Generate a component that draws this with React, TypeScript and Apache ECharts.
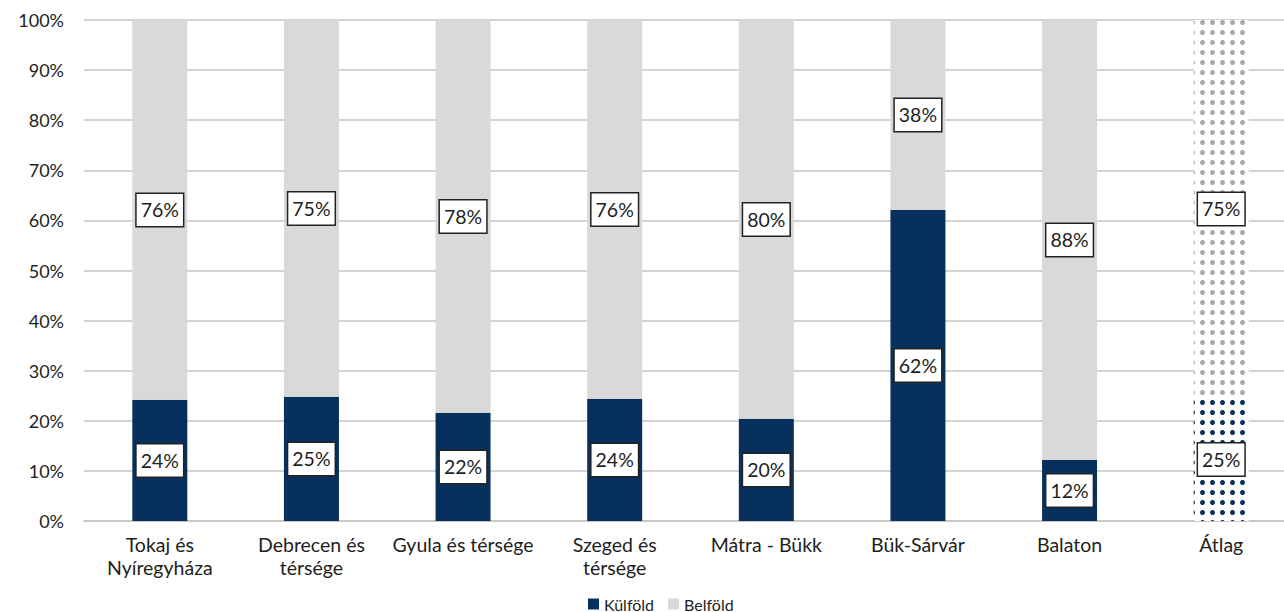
import React, { useEffect, useRef } from "react";
import * as echarts from "echarts";

const categories = [
  "Tokaj és\nNyíregyháza",
  "Debrecen és\ntérsége",
  "Gyula és térsége",
  "Szeged és\ntérsége",
  "Mátra - Bükk",
  "Bük-Sárvár",
  "Balaton",
  "Átlag",
];
const kulfold = [24.2, 24.8, 21.6, 24.4, 20.4, 62.1, 12.2, 24.6];
const belfold = [75.8, 75.2, 78.4, 75.6, 79.6, 37.9, 87.8, 75.4];
const yTicks = [0, 10, 20, 30, 40, 50, 60, 70, 80, 90, 100];

const NAVY = "#07305d";
const GRAY = "#d9d9d9";
const DOT_GRAY = "#a9a9a9";
const TEXT = "#1e1e1e";
const FONT = "Lato, 'Noto Sans', sans-serif";

const dotted = (color: string) => ({
  color,
  backgroundColor: "#ffffff",
  symbol: "circle",
  symbolSize: 1,
  dashArrayX: [4.5, 4.1],
  dashArrayY: [4.5, 4.1],
  rotation: 0,
});

const label = {
  show: true,
  position: "inside",
  formatter: (p: any) => `${Math.round(p.value)}%`,
  fontFamily: FONT,
  fontSize: 19.5,
  color: TEXT,
  backgroundColor: "#ffffff",
  borderColor: "#222222",
  borderWidth: 1.5,
  padding: [5, 4, 4, 4],
  lineHeight: 23,
};

export default function App() {
  const ref = useRef<HTMLDivElement>(null);

  useEffect(() => {
    if (!ref.current) return;
    const chart = echarts.init(ref.current, undefined, { renderer: "svg" });
    const last = categories.length - 1;
    chart.setOption({
      animation: false,
      aria: { enabled: true, decal: { show: false } },
      grid: {
        left: 84,
        width: 1213,
        top: 20,
        bottom: 91,
        outerBoundsMode: "none",
        containLabel: false,
      },
      legend: {
        left: 583,
        top: 591,
        itemWidth: 11,
        itemHeight: 11,
        itemGap: 14,
        icon: "rect",
        textStyle: { fontFamily: FONT, fontSize: 16, color: TEXT },
        data: ["Külföld", "Belföld"],
      },
      xAxis: {
        type: "category",
        data: categories,
        axisLine: { show: true, lineStyle: { color: "#c4c4c4", width: 1.5 } },
        axisTick: { show: false },
        axisLabel: {
          interval: 0,
          margin: 12,
          fontFamily: FONT,
          fontSize: 19.5,
          lineHeight: 23,
          color: TEXT,
        },
      },
      yAxis: {
        type: "value",
        min: 0,
        max: 100,
        interval: 10,
        axisLine: { show: false },
        axisTick: { show: false },
        splitLine: { lineStyle: { color: "#c4c4c4", width: 1.5 } },
        axisLabel: {
          margin: 20,
          fontFamily: FONT,
          fontSize: 18,
          color: TEXT,
          formatter: (v: number) => (yTicks.includes(v) ? `${v}%` : ""),
        },
      },
      series: [
        {
          name: "Külföld",
          type: "bar",
          stack: "total",
          barWidth: 55,
          itemStyle: { color: NAVY },
          label,
          data: kulfold.map((v, i) =>
            i === last
              ? { value: v, itemStyle: { color: "#ffffff", decal: dotted(NAVY) } }
              : v
          ),
        },
        {
          name: "Belföld",
          type: "bar",
          stack: "total",
          barWidth: 55,
          itemStyle: { color: GRAY },
          label,
          data: belfold.map((v, i) =>
            i === last
              ? { value: v, itemStyle: { color: "#ffffff", decal: dotted(DOT_GRAY) } }
              : v
          ),
        },
      ],
    });
    return () => chart.dispose();
  }, []);

  return (
    <div
      ref={ref}
      style={{ position: "absolute", left: 0, top: 0, width: 1284, height: 612 }}
    />
  );
}
